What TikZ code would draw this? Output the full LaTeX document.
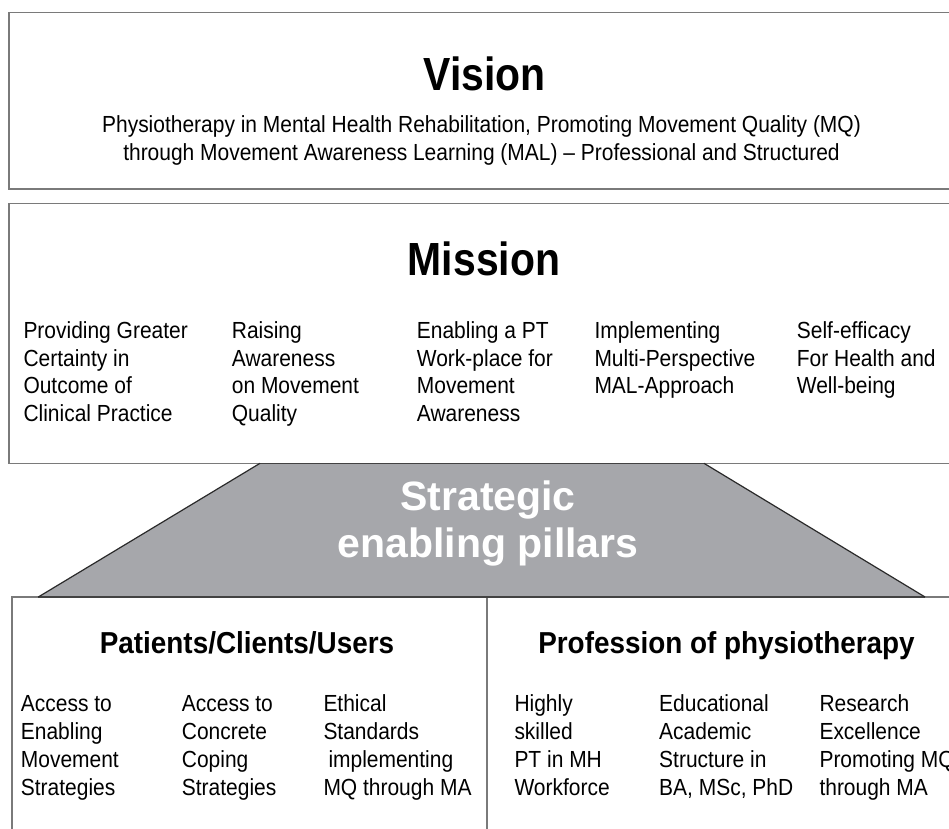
\documentclass[tikz,border=0pt]{standalone}
\usepackage{fontspec}
\setmainfont{Liberation Sans}
% narrowed cuts of the sans face for the different text roles
\newfontfamily\bodyfam[FakeStretch=0.9]{Liberation Sans}
\newfontfamily\headfam[FakeStretch=0.92]{Liberation Sans}
\newfontfamily\titlefam[FakeStretch=0.88]{Liberation Sans}

\definecolor{boxgray}{HTML}{7A7A7A}
\definecolor{pillargray}{HTML}{A6A7AB}
\definecolor{edgedark}{HTML}{2A2A2A}

\tikzset{
  boxline/.style={draw=boxgray, line width=1.6pt},
  item/.style={anchor=base west, inner sep=0pt,
    font=\bodyfam\fontsize{23.3}{27.8}\selectfont},
  subline/.style={anchor=base, inner sep=0pt,
    font=\bodyfam\fontsize{23.3}{28}\selectfont},
  head/.style={anchor=base, inner sep=0pt,
    font=\headfam\bfseries\fontsize{30.3}{34}\selectfont},
  title/.style={anchor=base, inner sep=0pt,
    font=\titlefam\bfseries\fontsize{46.5}{50}\selectfont},
  pillartext/.style={anchor=base, inner sep=0pt, text=white,
    font=\bfseries\fontsize{41}{47}\selectfont},
}
% stacked lines whose reference point is the first baseline
\newcommand{\leftlines}[1]{\begin{tabular}[t]{@{}l@{}}#1\end{tabular}}
\newcommand{\midlines}[1]{\begin{tabular}[t]{@{}c@{}}#1\end{tabular}}

\begin{document}
\begin{tikzpicture}[x=1pt, y=-1pt]
  \useasboundingbox (0,0) rectangle (949,828);
  \clip (0,0) rectangle (949,828);
  \fill[white] (0,0) rectangle (949,828);

  % frames (open to the right and bottom)
  \draw[boxline] (9,12.3) rectangle (970,189);
  \draw[boxline] (9,203.3) rectangle (970,463.3);
  \draw[boxline] (11.7,597) rectangle (970,850);
  \draw[boxline] (487,597) -- (487,850);

  % strategic pillars trapezoid
  \fill[pillargray] (260,463.3) -- (704,463.3) -- (925,597) -- (38.3,597) -- cycle;
  \draw[edgedark!70!boxgray, line width=1.4pt] (260,463.3) -- (704,463.3);
  \draw[edgedark!70!boxgray, line width=1.6pt] (38.3,597) -- (925,597);
  \draw[edgedark, line width=1.2pt] (260,463.3) -- (38.3,597);
  \draw[edgedark, line width=1.2pt] (704,463.3) -- (925,597);

  % vision
  \node[title] (vision) at (484.5,90) {Vision};
  \node[subline] (visiontext) at (481.5,132.5) {\midlines{%
    Physiotherapy in Mental Health Rehabilitation, Promoting Movement Quality (MQ)\\
    through Movement Awareness Learning (MAL) – Professional and Structured}};

  % mission
  \node[title] (mission) at (484,275) {Mission};
  \node[item] (m1) at (23.3,338.3) {\leftlines{Providing Greater\\Certainty in\\Outcome of\\Clinical Practice}};
  \node[item] (m2) at (231.7,338.3) {\leftlines{Raising\\Awareness\\on Movement\\Quality}};
  \node[item] (m3) at (416.7,338.3) {\leftlines{Enabling a PT\\Work-place for\\Movement\\Awareness}};
  \node[item] (m4) at (594.3,338.3) {\leftlines{Implementing\\Multi-Perspective\\MAL-Approach}};
  \node[item] (m5) at (796.7,338.3) {\leftlines{Self-efficacy\\For Health and\\Well-being}};

  % pillars label
  \node[pillartext] (pillars) at (488,510) {\fontsize{41}{47}\selectfont\midlines{Strategic\\enabling pillars}};

  % patients / clients / users
  \node[head] (users) at (247,653) {Patients/Clients/Users};
  \node[item] (u1) at (20.7,711.7) {\leftlines{Access to\\Enabling\\Movement\\Strategies}};
  \node[item] (u2) at (181.7,711.7) {\leftlines{Access to\\Concrete\\Coping\\Strategies}};
  \node[item] (u3) at (323.3,711.7) {\leftlines{Ethical\\Standards\\\hspace{5pt}implementing\\MQ through MA}};

  % profession
  \node[head] (profession) at (726.5,653) {Profession of physiotherapy};
  \node[item] (p1) at (514.3,711.7) {\leftlines{Highly\\skilled\\PT in MH\\Workforce}};
  \node[item] (p2) at (659,711.7) {\leftlines{Educational\\Academic\\Structure in\\BA, MSc, PhD}};
  \node[item] (p3) at (819.3,711.7) {\leftlines{Research\\Excellence\\Promoting MQ\\through MA}};
\end{tikzpicture}
\end{document}
